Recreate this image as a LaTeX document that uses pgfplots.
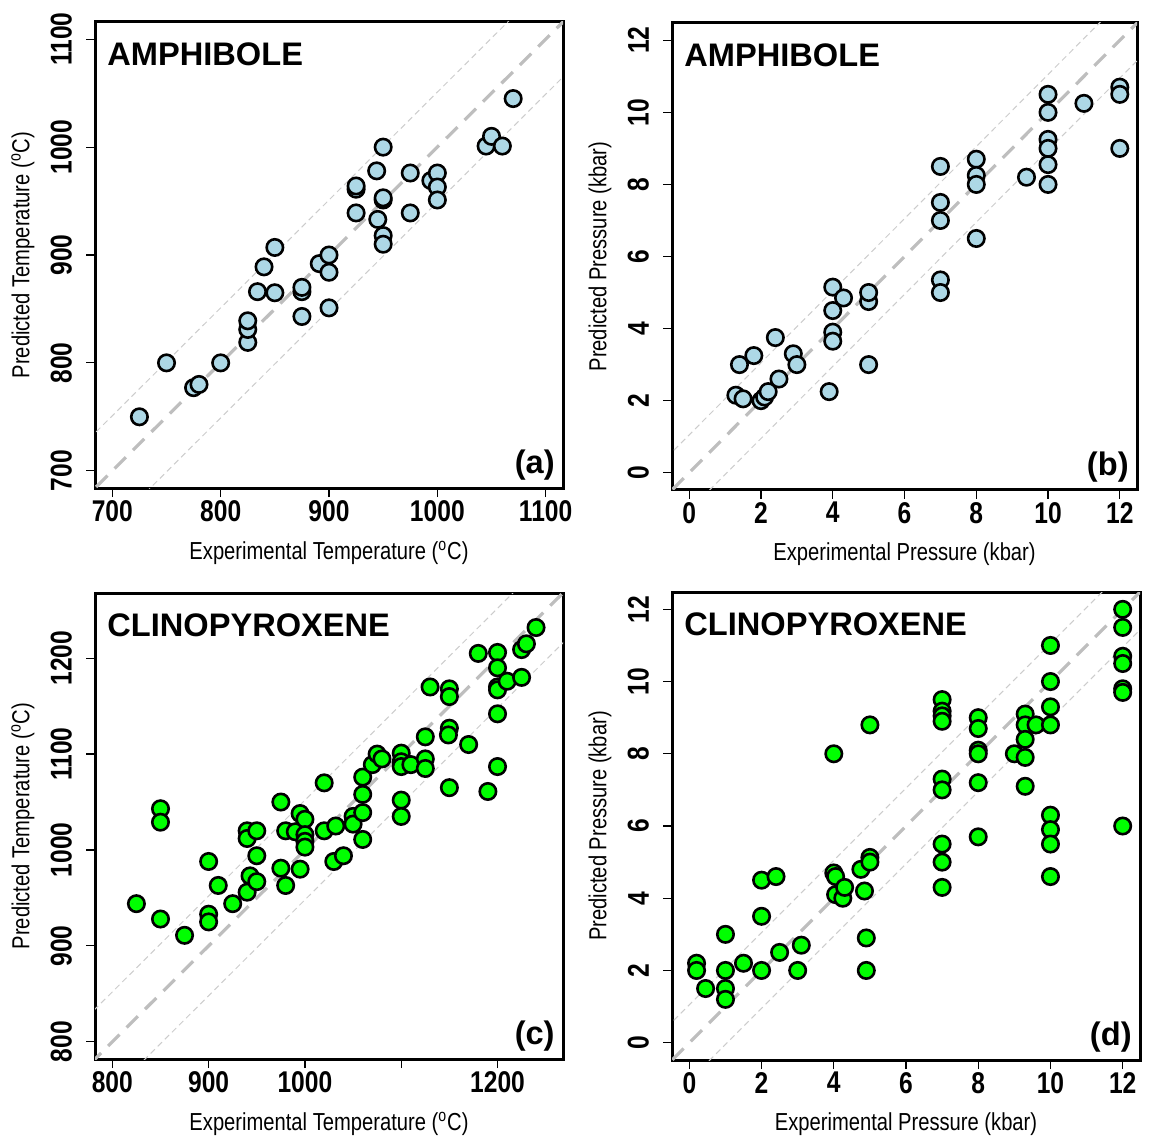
\documentclass[border=0pt]{standalone}
\usepackage{fontspec}
\setmainfont{Liberation Sans}
\newfontfamily\nfont[FakeStretch=0.82]{Liberation Sans}
\usepackage{pgfplots}
\pgfplotsset{compat=1.18}

\definecolor{ampblue}{HTML}{ADD8E6}
\definecolor{cpxgreen}{HTML}{00FF00}
\definecolor{oneline}{HTML}{BEBEBE}
\definecolor{seeline}{HTML}{CCCCCC}

\pgfplotsset{
  panel/.style={
    scale only axis,
    width=234pt, height=233pt,
    anchor=north west,
    axis line style={line width=1.5pt},
    tick align=outside,
    major tick length=4.5pt,
    every tick/.style={black, line width=0.6pt},
    xtick pos=bottom, ytick pos=left,
    /pgf/number format/assume math mode=true,
    /pgf/number format/1000 sep={},
    ticklabel style={font=\nfont\bfseries\fontsize{15}{15}\selectfont},
    yticklabel style={rotate=90, anchor=south, yshift=3.5pt},
    xticklabel style={yshift=2pt},
    label style={font=\nfont\fontsize{12.3}{14}\selectfont},
    xlabel style={yshift=-3pt},
    ylabel style={yshift=1.3pt},
    clip=true,
  },
  oneone/.style={no marks, oneline, line width=1.6pt, dash pattern=on 8pt off 5pt},
  see/.style={no marks, seeline, line width=0.5pt, dash pattern=on 3pt off 2pt},
  ampmark/.style={only marks, mark=*, mark size=4.1pt,
    mark options={fill=ampblue, draw=black, line width=1.3pt}},
  cpxmark/.style={only marks, mark=*, mark size=4.1pt,
    mark options={fill=cpxgreen, draw=black, line width=1.3pt}},
}
\newcommand{\paneltitle}[1]{\node[anchor=north west, inner sep=0pt, font=\bfseries\fontsize{16.3}{18}\selectfont]
  at ([xshift=6pt, yshift=-10pt]rel axis cs:0,1) {#1};}
\newcommand{\panelletter}[1]{\node[anchor=south east, inner sep=0pt, font=\bfseries\fontsize{16.3}{18}\selectfont]
  at ([xshift=-4pt, yshift=3.5pt]rel axis cs:1,0) {#1};}

\begin{document}
\begin{tikzpicture}
\path (0,0) rectangle (574.5pt,-570pt);

% (a) amphibole temperature
\begin{axis}[panel, at={(47.5pt,-11pt)},
  xmin=684, xmax=1116, ymin=684, ymax=1116,
  xtick={700,800,900,1000,1100}, ytick={700,800,900,1000,1100},
  xlabel={Experimental Temperature (\textsuperscript{o}C)},
  ylabel={Predicted Temperature (\textsuperscript{o}C)}]
\addplot[see] coordinates {(600,651) (1200,1251)};
\addplot[see] coordinates {(600,549) (1200,1149)};
\addplot[oneone] coordinates {(600,600) (1200,1200)};
\addplot[ampmark] coordinates {
 (725,750) (750,800) (775,777) (780,780) (800,800)
 (825,819) (825,831) (825,839) (834,866) (840,889)
 (850,865) (850,907) (875,843) (875,866) (875,870)
 (891,892) (900,900) (900,884) (900,851)
 (925,939) (925,961) (925,964) (944,978) (945,933)
 (950,1000) (950,951) (950,953) (950,918) (950,910)
 (975,976) (975,939) (994,969) (1000,976) (1000,963) (1000,951)
 (1045,1001) (1050,1010) (1060,1001) (1070,1045)
};
\paneltitle{AMPHIBOLE}
\panelletter{(a)}
\end{axis}

% (b) amphibole pressure
\begin{axis}[panel, at={(336pt,-11.5pt)}, width=232.5pt, height=233.5pt,
  xmin=-0.48, xmax=12.48, ymin=-0.48, ymax=12.48,
  xtick={0,2,...,12}, ytick={0,2,...,12},
  xlabel={Experimental Pressure (kbar)},
  ylabel={Predicted Pressure (kbar)}]
\addplot[see] coordinates {(-2,-0.95) (14,15.05)};
\addplot[see] coordinates {(-2,-3.05) (14,12.95)};
\addplot[oneone] coordinates {(-2,-2) (14,14)};
\addplot[ampmark] coordinates {
 (1.4,3.0) (1.3,2.15) (1.5,2.05) (1.8,3.25) (2.0,2.0) (2.1,2.1)
 (2.2,2.25) (2.4,3.75) (2.5,2.6) (2.9,3.3) (3.0,3.0) (3.9,2.25)
 (4,3.9) (4,3.65) (4,4.5) (4,5.15) (4.3,4.85)
 (5,4.75) (5,5.0) (5,3.0)
 (7,8.5) (7,7.5) (7,7.0) (7,5.35) (7,5.0)
 (8,8.7) (8,8.25) (8,8.0) (8,6.5) (9.4,8.2)
 (10,10.5) (10,10.0) (10,9.25) (10,9.0) (10,8.55) (10,8.0)
 (11,10.25) (12,10.7) (12,10.5) (12,9.0)
};
\paneltitle{AMPHIBOLE}
\panelletter{(b)}
\end{axis}

% (c) clinopyroxene temperature
\begin{axis}[panel, at={(47.5pt,-296.5pt)},
  xmin=782, xmax=1268, ymin=782, ymax=1268,
  xtick={800,900,1000,1100,1200}, xticklabels={800,900,1000,,1200},
  ytick={800,900,1000,1100,1200},
  xlabel={Experimental Temperature (\textsuperscript{o}C)},
  ylabel={Predicted Temperature (\textsuperscript{o}C)}]
\addplot[see] coordinates {(700,752) (1300,1352)};
\addplot[see] coordinates {(700,648) (1300,1248)};
\addplot[oneone] coordinates {(700,700) (1300,1300)};
\addplot[cpxmark] coordinates {
 (825,944) (850,1043) (850,1029) (850,928) (875,911)
 (900,988) (900,933) (900,925) (910,963) (925,944)
 (940,1020) (940,1012) (943,973) (940,956)
 (950,1020) (950,994) (950,967)
 (975,1050) (975,981) (980,1020) (980,963) (990,1019)
 (995,1038) (995,980) (1000,1032) (1000,1016) (1000,1009) (1000,1003)
 (1020,1020) (1020,1070) (1032,1025) (1030,988) (1040,994)
 (1050,1035) (1050,1027) (1060,1076) (1060,1058) (1060,1039) (1060,1011)
 (1070,1089) (1075,1100) (1080,1095)
 (1100,1101) (1100,1092) (1100,1087) (1100,1052) (1100,1035)
 (1110,1089) (1125,1095) (1125,1085) (1125,1118) (1130,1170)
 (1150,1168) (1150,1160) (1150,1127) (1149,1120) (1150,1065)
 (1170,1110) (1180,1205) (1190,1061)
 (1200,1206) (1200,1190) (1200,1170) (1200,1167) (1200,1142) (1200,1087)
 (1210,1176) (1225,1180) (1225,1209) (1230,1215) (1240,1232)
};
\paneltitle{CLINOPYROXENE}
\panelletter{(c)}
\end{axis}

% (d) clinopyroxene pressure
\begin{axis}[panel, at={(336pt,-296pt)}, height=234pt,
  xmin=-0.48, xmax=12.48, ymin=-0.48, ymax=12.48,
  xtick={0,2,...,12}, ytick={0,2,...,12},
  xlabel={Experimental Pressure (kbar)},
  ylabel={Predicted Pressure (kbar)}]
\addplot[see] coordinates {(-2,-0.95) (14,15.05)};
\addplot[see] coordinates {(-2,-3.05) (14,12.95)};
\addplot[oneone] coordinates {(-2,-2) (14,14)};
\addplot[cpxmark] coordinates {
 (0.2,2.2) (0.2,2.0) (0.45,1.5) (1,3.0) (1,2.0) (1,1.5) (1,1.2)
 (1.5,2.2) (2,4.5) (2,3.5) (2,2.0) (2.4,4.6) (2.5,2.5)
 (3,2.0) (3.1,2.7)
 (4,8.0) (4,4.7) (4.05,4.6) (4.05,4.1) (4.25,4.0) (4.3,4.3)
 (4.75,4.8) (4.85,4.2) (5,5.13) (5,5.0) (5,8.8) (4.9,2.9) (4.9,2.0)
 (7,9.5) (7,9.18) (7,9.05) (7,8.9) (7,7.3) (7,7.0) (7,5.5) (7,5.0) (7,4.3)
 (8,9.0) (8,8.7) (8,8.1) (8,8.0) (8,7.2) (8,5.7)
 (9,8.0) (9.3,9.1) (9.3,8.8) (9.3,8.4) (9.3,7.9) (9.3,7.1) (9.6,8.8)
 (10,11.0) (10,10.0) (10,9.3) (10,8.8) (10,6.3) (10,5.9) (10,5.5) (10,4.6)
 (12,12.0) (12,11.5) (12,10.7) (12,10.5) (12,9.8) (12,9.7) (12,6.0)
};
\paneltitle{CLINOPYROXENE}
\panelletter{(d)}
\end{axis}
\end{tikzpicture}
\end{document}
